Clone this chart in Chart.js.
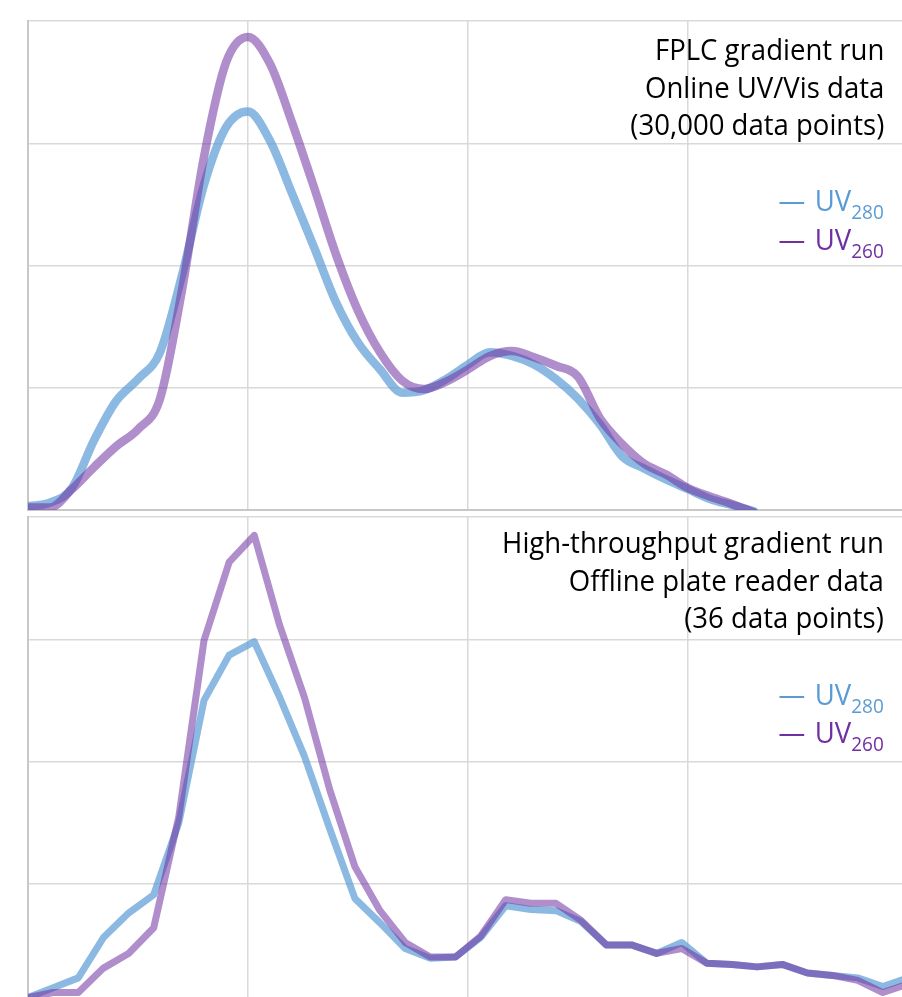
<!DOCTYPE html>
<html>
<head>
<meta charset="utf-8">
<script src="https://cdn.jsdelivr.net/npm/chart.js@4.4.1/dist/chart.umd.min.js"></script>
<style>
  html, body { margin: 0; padding: 0; background: #fff; }
  body { width: 902px; height: 997px; overflow: hidden; position: relative; font-family: "Open Sans", sans-serif; }
  canvas { position: absolute; left: 0; }
  #top-chart { top: 0; }
  #bottom-chart { top: 512px; }
  .note, .key {
    position: absolute; right: 18px; text-align: right; white-space: nowrap;
    font-size: 29px; transform: scaleX(0.95); transform-origin: right center;
  }
  .note { line-height: 37.5px; color: #000; }
  .key { line-height: 38px; }
  .key sub { font-size: 20px; vertical-align: -8px; line-height: 0; }
  .key .dash { display: inline-block; width: 26px; height: 2.5px; margin-right: 11px; vertical-align: 7px; }
  .uv280 { color: #5B9BD5; }
  .uv280 .dash { background: #5B9BD5; }
  .uv260 { color: #7030A0; }
  .uv260 .dash { background: #7030A0; }
</style>
</head>
<body>
<canvas id="top-chart" width="920" height="515"></canvas>
<canvas id="bottom-chart" width="920" height="510"></canvas>

<div class="note" style="top:30px">FPLC gradient run<br>Online UV/Vis data<br>(30,000 data points)</div>
<div class="key uv280" style="top:181px"><span class="dash"></span>UV<sub>280</sub></div>
<div class="key uv260" style="top:220px"><span class="dash"></span>UV<sub>260</sub></div>

<div class="note" style="top:523px">High-throughput gradient run<br>Offline plate reader data<br>(36 data points)</div>
<div class="key uv280" style="top:675px"><span class="dash"></span>UV<sub>280</sub></div>
<div class="key uv260" style="top:713px"><span class="dash"></span>UV<sub>260</sub></div>

<script>
// FPLC run (online UV/Vis), every 0.1 units
const fplcX = [0, 0.1, 0.2, 0.3, 0.4, 0.5, 0.6, 0.7, 0.8, 0.9, 1.0, 1.1, 1.2, 1.3, 1.4, 1.5, 1.6,
    1.7, 1.8, 1.9, 2.0, 2.1, 2.2, 2.3, 2.4, 2.5, 2.6, 2.7, 2.8, 2.9, 3.0, 3.1, 3.2, 3.3];
const fplc280 = [0.03, 0.06, 0.18, 0.57, 0.89, 1.07, 1.29, 1.92, 2.66, 3.13, 3.26, 3.02, 2.59, 2.15, 1.70, 1.37, 1.15,
    0.96, 0.98, 1.07, 1.19, 1.29, 1.26, 1.19, 1.07, 0.91, 0.70, 0.44, 0.34, 0.25, 0.17, 0.09, 0.04, -0.01];
const fplc260 = [0.02, 0.02, 0.17, 0.35, 0.52, 0.66, 0.91, 1.80, 2.89, 3.66, 3.87, 3.65, 3.17, 2.64, 2.09, 1.63, 1.29,
    1.06, 0.99, 1.05, 1.15, 1.26, 1.30, 1.25, 1.18, 1.09, 0.75, 0.54, 0.38, 0.29, 0.18, 0.11, 0.05, -0.02];

// High-throughput run (plate reader), one value per well
const wells = [0, 1, 2, 3, 4, 5, 6, 7, 8, 9, 10, 11, 12, 13, 14, 15, 16, 17,
    18, 19, 20, 21, 22, 23, 24, 25, 26, 27, 28, 29, 30, 31, 32, 33, 34, 35];
const plate280 = [0.07, 0.15, 0.23, 0.56, 0.76, 0.91, 1.50, 2.50, 2.87, 2.98, 2.53, 2.04, 1.45, 0.88, 0.68, 0.47, 0.39, 0.40,
    0.56, 0.82, 0.79, 0.78, 0.69, 0.50, 0.50, 0.43, 0.52, 0.35, 0.34, 0.32, 0.34, 0.27, 0.25, 0.23, 0.16, 0.23];
const plate260 = [0.07, 0.11, 0.11, 0.31, 0.43, 0.64, 1.55, 2.99, 3.63, 3.85, 3.12, 2.52, 1.77, 1.14, 0.78, 0.52, 0.40, 0.40,
    0.57, 0.87, 0.84, 0.84, 0.70, 0.50, 0.50, 0.43, 0.47, 0.35, 0.34, 0.32, 0.34, 0.27, 0.25, 0.21, 0.11, 0.18];

const blue = 'rgba(91, 155, 213, 0.7)';
const purple = 'rgba(112, 48, 160, 0.55)';

function toPoints(xs, ys) {
    return xs.map((x, i) => ({ x: x, y: ys[i] }));
}

function axes(xMax, xStep) {
    const grid = { color: '#d9d9d9', lineWidth: 1.5, drawTicks: false };
    return {
        x: {
            type: 'linear', min: 0, max: xMax,
            ticks: { display: false, stepSize: xStep },
            grid: grid,
            border: { color: '#c8c8c8', width: 2 }
        },
        y: {
            min: 0, max: 4,
            ticks: { display: false, stepSize: 1 },
            grid: grid,
            border: { color: '#c8c8c8', width: 2 }
        }
    };
}

function makeChart(id, datasets, xMax, xStep, padding) {
    return new Chart(document.getElementById(id), {
        type: 'line',
        data: { datasets: datasets },
        options: {
            responsive: false,
            animation: false,
            layout: { padding: padding, autoPadding: false },
            plugins: { legend: { display: false }, tooltip: { enabled: false } },
            elements: { point: { radius: 0 } },
            scales: axes(xMax, xStep)
        }
    });
}

makeChart('top-chart', [
    { label: 'UV280', data: toPoints(fplcX, fplc280), borderColor: blue, borderWidth: 8.5,
      cubicInterpolationMode: 'monotone', borderCapStyle: 'round', borderJoinStyle: 'round', order: 2 },
    { label: 'UV260', data: toPoints(fplcX, fplc260), borderColor: purple, borderWidth: 8.5,
      cubicInterpolationMode: 'monotone', borderCapStyle: 'round', borderJoinStyle: 'round', order: 1 }
], 4, 1, { left: 28, top: 21, right: 12, bottom: 5 });

makeChart('bottom-chart', [
    { label: 'UV280', data: toPoints(wells, plate280), borderColor: blue, borderWidth: 7,
      tension: 0, borderJoinStyle: 'round', order: 2 },
    { label: 'UV260', data: toPoints(wells, plate260), borderColor: purple, borderWidth: 7,
      tension: 0, borderJoinStyle: 'round', order: 1 }
], 35, 8.75, { left: 28, top: 5, right: 12, bottom: 16 });
</script>
</body>
</html>
